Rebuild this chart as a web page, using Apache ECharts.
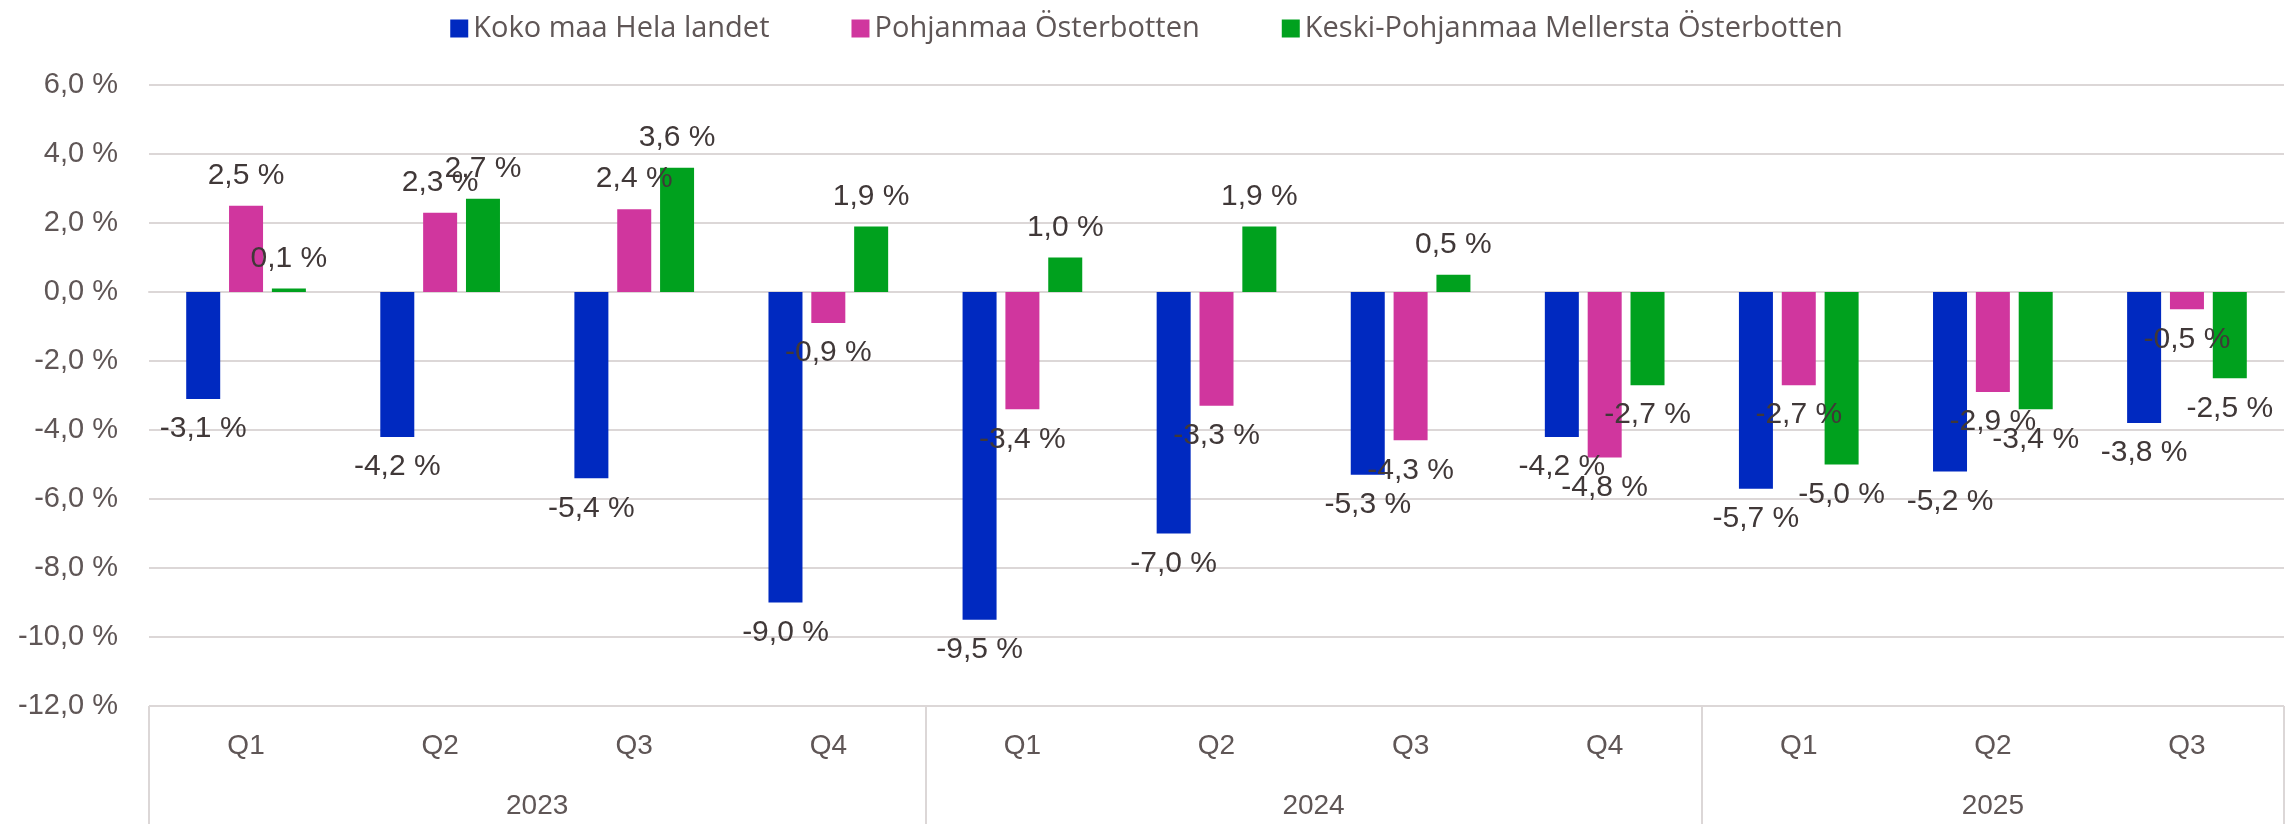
<!DOCTYPE html>
<html>
<head>
<meta charset="utf-8">
<script src="https://cdn.jsdelivr.net/npm/echarts@6/dist/echarts.min.js"></script>
<style>
  html, body { margin: 0; padding: 0; background: #fff; }
  #main { width: 2293px; height: 824px; }
</style>
</head>
<body>
<div id="main"></div>
<script>
// data
const quarters = ['Q1', 'Q2', 'Q3', 'Q4', 'Q1', 'Q2', 'Q3', 'Q4', 'Q1', 'Q2', 'Q3']
const years = ['2023', '2024', '2025']
const yearCenters = [2, 6, 9.5]
const yearBounds = [0, 4, 8, 11]
const kokoMaa = [-3.1, -4.2, -5.4, -9.0, -9.5, -7.0, -5.3, -4.2, -5.7, -5.2, -3.8]
const pohjanmaa = [2.5, 2.3, 2.4, -0.9, -3.4, -3.3, -4.3, -4.8, -2.7, -2.9, -0.5]
const keskiPohjanmaa = [0.1, 2.7, 3.6, 1.9, 1.0, 1.9, 0.5, -2.7, -5.0, -3.4, -2.5]
const yTicks = [-12, -10, -8, -6, -4, -2, 0, 2, 4, 6]

const textColor = '#5f5656'
const labelColor = '#403838'
const lineColor = '#dcd7d7'
const fontName = 'Liberation Sans'

function pct (v) {
  return v.toFixed(1).replace('.', ',') + ' %'
}

function makeSeries (name, values, color) {
  return {
    name: name,
    type: 'bar',
    xAxisIndex: 0,
    barWidth: 34,
    barGap: '26%',
    itemStyle: { color: color },
    data: values.map(v => ({
      value: v,
      label: { position: v < 0 ? 'bottom' : 'top' }
    })),
    label: {
      show: true,
      distance: 15,
      color: labelColor,
      fontFamily: fontName,
      fontSize: 30,
      formatter: p => pct(p.value)
    }
  }
}

const chart = echarts.init(document.getElementById('main'))

const option = {
  animation: false,
  legend: {
    top: 9,
    left: 'center',
    itemWidth: 18,
    itemHeight: 18,
    itemGap: 82,
    icon: 'rect',
    textStyle: { color: textColor, fontFamily: 'Open Sans', fontSize: 29 }
  },
  grid: { left: 149, right: 9, top: 85, bottom: 118, containLabel: false },
  xAxis: [
    {
      type: 'category',
      data: quarters,
      position: 'bottom',
      axisLine: { show: true, lineStyle: { color: lineColor, width: 2 } },
      axisTick: { show: false },
      axisLabel: { color: textColor, fontFamily: fontName, fontSize: 28, margin: 26 }
    },
    {
      type: 'value',
      min: 0,
      max: 11,
      position: 'bottom',
      axisLine: { show: false },
      splitLine: { show: false },
      axisTick: {
        show: true,
        customValues: yearBounds,
        length: 118,
        lineStyle: { color: lineColor, width: 2 }
      },
      axisLabel: {
        customValues: yearCenters,
        margin: 86,
        color: textColor,
        fontFamily: fontName,
        fontSize: 28,
        formatter: v => years[yearCenters.indexOf(v)]
      }
    }
  ],
  yAxis: {
    type: 'value',
    min: yTicks[0],
    max: yTicks[yTicks.length - 1],
    interval: 2,
    axisLine: { show: false },
    axisTick: { show: false },
    splitLine: { lineStyle: { color: lineColor, width: 2 } },
    axisLabel: {
      color: textColor,
      fontFamily: fontName,
      fontSize: 29,
      margin: 31,
      formatter: v => pct(v)
    }
  },
  series: [
    makeSeries('Koko maa Hela landet', kokoMaa, '#0029c0'),
    makeSeries('Pohjanmaa Österbotten', pohjanmaa, '#d0369e'),
    makeSeries('Keski-Pohjanmaa Mellersta Österbotten', keskiPohjanmaa, '#00a11e')
  ]
}

chart.setOption(option)
</script>
</body>
</html>
